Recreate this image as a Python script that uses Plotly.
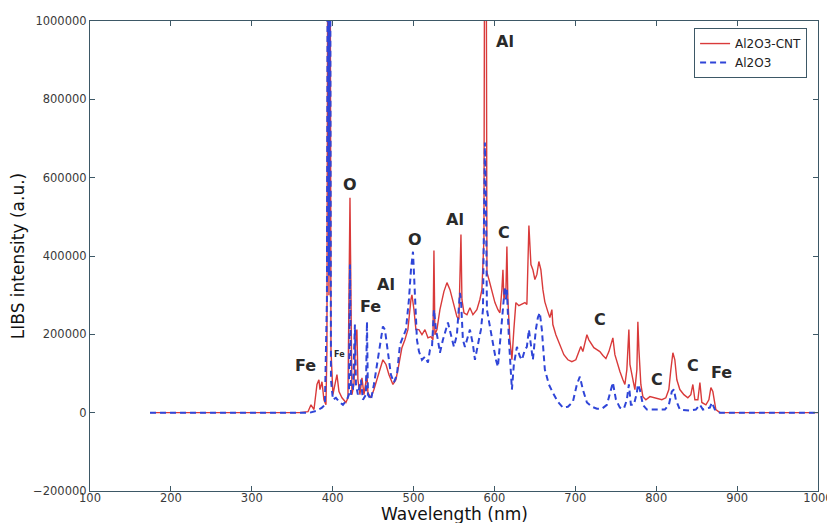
import plotly.graph_objects as go

# Al2O3-CNT (red, solid)
wl_cnt = [174.2, 359.6, 369.5, 373.2, 376.9, 380.6, 383.0, 384.3, 386.8, 389.2, 391.7, 392.9, 394.2, 395.4, 396.6, 397.9,
          400.3, 402.8, 405.3, 407.8, 411.5, 416.4, 418.9, 421.4, 423.8, 426.3, 428.8, 430.0, 431.2, 433.7, 436.2, 438.7,
          441.1, 442.4, 443.6, 447.3, 451.0, 454.7, 458.4, 462.1, 465.9, 469.6, 474.5, 478.2, 481.9, 485.6, 489.3, 493.0,
          496.8, 498.0, 500.5, 502.9, 506.6, 510.4, 514.1, 517.8, 521.5, 524.0, 525.2, 526.4, 528.9, 532.6, 537.5, 541.3,
          545.0, 549.9, 553.6, 556.1, 558.6, 559.8, 562.3, 566.0, 569.7, 573.4, 578.3, 582.0, 584.5, 587.0, 588.2, 589.5,
          590.7, 593.2, 596.9, 600.6, 604.3, 606.8, 609.2, 610.5, 611.7, 614.2, 615.4, 616.6, 619.1, 621.6, 624.0, 626.5,
          630.2, 633.9, 637.7, 640.1, 642.6, 645.1, 647.5, 650.0, 652.5, 654.9, 657.4, 659.9, 662.3, 666.0, 668.5, 671.0,
          672.2, 675.9, 680.9, 685.8, 690.8, 695.7, 700.6, 704.4, 706.8, 709.3, 711.8, 714.3, 716.7, 719.2, 722.9, 726.6,
          730.3, 734.1, 737.8, 741.5, 745.2, 746.4, 748.9, 751.4, 755.1, 758.8, 761.3, 763.7, 766.2, 767.5, 769.9, 772.4,
          773.6, 776.1, 777.3, 778.6, 781.0, 783.5, 787.2, 792.2, 797.1, 802.1, 807.0, 811.9, 815.6, 818.1, 820.6, 823.0,
          825.5, 829.2, 834.2, 839.1, 842.8, 845.3, 847.8, 851.5, 854.0, 856.4, 861.4, 865.1, 867.6, 870.0, 873.7, 878.7,
          1000.0]
int_cnt = [0, 0, 2500, 20000, 8000, 72000, 84000, 59000, 79000, 33000, 20000, 161000, 1600000, 300000, 1600000, 161000,
           46000, 72000, 97000, 54000, 38000, 26000, 38000, 549000, 46000, 72000, 199000, 212000, 84000, 46000, 89000, 46000,
           79000, 97000, 51000, 38000, 59000, 84000, 110000, 135000, 123000, 97000, 72000, 84000, 123000, 166000, 186000, 212000,
           289000, 301000, 263000, 212000, 212000, 199000, 212000, 191000, 194000, 186000, 414000, 199000, 212000, 263000, 309000, 332000,
           314000, 276000, 245000, 238000, 455000, 289000, 255000, 250000, 268000, 250000, 263000, 289000, 314000, 442000, 1600000, 1600000,
           358000, 340000, 309000, 281000, 263000, 255000, 314000, 365000, 289000, 314000, 424000, 289000, 186000, 135000, 212000, 281000,
           273000, 276000, 281000, 276000, 478000, 378000, 365000, 340000, 353000, 386000, 365000, 314000, 283000, 258000, 243000, 263000,
           225000, 199000, 174000, 148000, 135000, 130000, 135000, 156000, 169000, 156000, 181000, 199000, 186000, 179000, 166000, 161000,
           156000, 146000, 138000, 156000, 181000, 191000, 148000, 130000, 105000, 84000, 72000, 110000, 212000, 123000, 97000, 64000,
           59000, 110000, 232000, 161000, 72000, 41000, 33000, 41000, 38000, 36000, 33000, 38000, 59000, 110000, 153000, 135000,
           84000, 59000, 46000, 38000, 46000, 72000, 33000, 33000, 77000, 26000, 20000, 33000, 64000, 54000, 8000, 0,
           0]

# Al2O3 (blue, dashed)
wl_al = [174.2, 371.9, 380.6, 386.8, 390.4, 392.9, 394.2, 395.4, 396.6, 397.9, 400.3, 404.0, 407.8, 412.7, 417.6, 420.1,
         421.4, 422.6, 425.1, 427.5, 428.8, 431.2, 434.9, 437.4, 441.1, 442.4, 443.6, 447.3, 451.0, 454.7, 458.4, 462.1,
         464.6, 468.3, 472.0, 475.7, 479.5, 483.2, 486.9, 490.6, 494.3, 496.8, 499.3, 501.7, 504.2, 506.7, 510.4, 514.1,
         517.8, 520.3, 522.8, 525.2, 527.7, 530.1, 532.6, 536.3, 540.0, 542.5, 546.2, 549.9, 553.6, 557.3, 558.6, 561.0,
         563.5, 567.2, 569.7, 573.4, 575.9, 579.6, 583.3, 585.8, 587.0, 588.2, 589.5, 590.7, 594.4, 598.1, 601.8, 604.3,
         606.8, 609.2, 611.7, 612.9, 614.2, 615.4, 617.9, 620.3, 621.6, 624.0, 627.8, 631.5, 634.0, 637.7, 640.1, 642.6,
         645.1, 647.5, 651.2, 653.7, 656.1, 658.6, 662.3, 667.3, 672.2, 678.4, 684.6, 690.8, 697.0, 701.9, 705.6, 709.3,
         714.3, 720.5, 726.7, 732.8, 739.0, 742.7, 746.4, 750.2, 755.1, 760.0, 763.7, 766.2, 768.7, 772.4, 776.1, 777.3,
         779.8, 783.5, 788.5, 798.3, 810.7, 815.6, 819.3, 821.8, 824.3, 829.2, 841.6, 849.0, 854.0, 857.7, 866.3, 868.8,
         872.5, 878.7, 1000.0]
int_al = [0, 0, 5000, 13000, 20000, 289000, 1600000, 350000, 1600000, 84000, 33000, 38000, 28000, 20000, 33000, 46000,
          378000, 46000, 59000, 225000, 72000, 46000, 84000, 33000, 46000, 232000, 46000, 33000, 72000, 123000, 174000, 220000,
          212000, 148000, 97000, 77000, 97000, 174000, 191000, 212000, 289000, 365000, 411000, 289000, 186000, 156000, 135000, 143000,
          128000, 161000, 168000, 263000, 212000, 186000, 153000, 186000, 212000, 230000, 199000, 168000, 199000, 306000, 289000, 186000,
          168000, 191000, 212000, 174000, 135000, 174000, 212000, 263000, 544000, 690000, 544000, 263000, 220000, 174000, 135000, 117000,
          174000, 237000, 289000, 322000, 289000, 314000, 186000, 110000, 59000, 123000, 168000, 143000, 135000, 161000, 168000, 212000,
          174000, 135000, 212000, 243000, 255000, 212000, 110000, 72000, 51000, 28000, 13000, 15000, 28000, 72000, 92000, 59000,
          26000, 15000, 10000, 10000, 20000, 46000, 77000, 33000, 13000, 10000, 33000, 72000, 20000, 20000, 51000, 72000,
          59000, 20000, 8000, 8000, 8000, 20000, 54000, 59000, 33000, 8000, 5000, 8000, 20000, 8000, 13000, 26000,
          8000, 0, 0]

# Element labels
label_text = ["Fe", "Fe", "O", "Fe", "Al", "O", "Al", "Al", "C", "C", "C", "C", "Fe"]
label_wl = [365.8, 409.0, 421.4, 447.0, 466.0, 501.7, 551.0, 613.0, 612.0, 730.0, 801.0, 845.0, 881.0]
label_int = [120000, 148000, 582000, 271000, 327000, 442000, 493000, 947000, 460000, 237000, 84000, 120000, 102000]
label_size = [16, 8, 16, 16, 16, 16, 16, 16, 16, 16, 16, 16, 16]

x_ticks = [100, 200, 300, 400, 500, 600, 700, 800, 900, 1000]
y_ticks = [-200000, 0, 200000, 400000, 600000, 800000, 1000000]

fig = go.Figure()
fig.add_trace(go.Scatter(x=wl_cnt, y=int_cnt, mode="lines", name="Al2O3-CNT",
                         line=dict(color="#d93a3a", width=1.4)))
fig.add_trace(go.Scatter(x=wl_al, y=int_al, mode="lines", name="Al2O3",
                         line=dict(color="#2f45d8", width=2, dash="6px,4px")))

for t, xv, yv, s in zip(label_text, label_wl, label_int, label_size):
    fig.add_annotation(x=xv, y=yv, text="<b>%s</b>" % t, showarrow=False,
                       font=dict(size=s, color="#2a2a2a", family="DejaVu Sans"))

# x-axis title placed as a paper annotation just below the tick labels
fig.add_annotation(x=0.5, y=-0.049, xref="paper", yref="paper", yanchor="middle",
                   text="Wavelength (nm)", showarrow=False,
                   font=dict(size=17, color="#111111", family="DejaVu Sans"))

axis_color = "#3d5866"
fig.update_layout(
    width=827, height=515,
    margin=dict(l=82, r=17, t=13, b=32),
    paper_bgcolor="white", plot_bgcolor="white",
    font=dict(family="DejaVu Sans", color="#333333"),
    showlegend=True,
    legend=dict(x=0.985, y=0.985, xanchor="right", yanchor="top",
                bordercolor=axis_color, borderwidth=1, bgcolor="white",
                font=dict(size=12, color="#222222")),
    xaxis=dict(range=[100, 1000], tickvals=x_ticks, ticktext=[str(v) for v in x_ticks],
               automargin=False, ticklabelstandoff=-4,
               showgrid=False, zeroline=False, showline=True, mirror="ticks",
               linecolor=axis_color, linewidth=1.2, ticks="inside", ticklen=5,
               tickcolor=axis_color, tickfont=dict(size=11.5, color="#3a3a3a")),
    yaxis=dict(range=[-200000, 1000000], tickvals=y_ticks, ticktext=[("\u2212%d" % -v) if v < 0 else str(v) for v in y_ticks],
               automargin=False,
               showgrid=False, zeroline=False, showline=True, mirror="ticks",
               linecolor=axis_color, linewidth=1.2, ticks="inside", ticklen=5,
               tickcolor=axis_color, tickfont=dict(size=11.5, color="#3a3a3a"),
               title=dict(text="LIBS intensity (a.u.)", font=dict(size=17, color="#111111"), standoff=6)),
)

fig.write_html("out.html")
